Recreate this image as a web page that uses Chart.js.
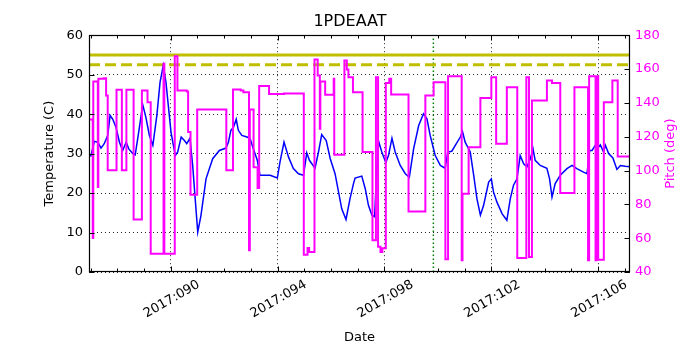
<!DOCTYPE html>
<html>
<head>
<meta charset="utf-8">
<script src="https://cdn.jsdelivr.net/npm/chart.js@4.4.0/dist/chart.umd.min.js"></script>
<style>
  body { margin: 0; background: #fff; }
  #wrap { width: 700px; height: 350px; }
</style>
</head>
<body>
<div id="wrap"><canvas id="myChart" width="700" height="350"></canvas></div>
<script>
// temperature trace (day of year 2017, deg C)
var tempDays = [86.93, 87.01, 87.14, 87.27, 87.39, 87.51, 87.64, 87.73, 87.83, 87.95,
  88.08, 88.20, 88.33, 88.43, 88.58, 88.67, 88.82, 88.95, 89.07, 89.20,
  89.33, 89.48, 89.60, 89.72, 89.82, 90.01, 90.17, 90.26, 90.39, 90.51,
  90.60, 90.72, 90.82, 91.01, 91.13, 91.32, 91.57, 91.82, 92.07, 92.16,
  92.25, 92.35, 92.45, 92.53, 92.66, 92.85, 92.97, 93.09, 93.24, 93.34,
  93.72, 93.99, 94.09, 94.24, 94.41, 94.59, 94.78, 94.97, 95.09, 95.19,
  95.40, 95.53, 95.65, 95.82, 95.97, 96.15, 96.28, 96.40, 96.56, 96.71,
  96.84, 96.90, 97.15, 97.28, 97.40, 97.53, 97.63, 97.71, 97.78, 97.90,
  98.05, 98.15, 98.28, 98.40, 98.59, 98.78, 98.93, 99.09, 99.28, 99.46,
  99.59, 99.71, 99.90, 100.09, 100.27, 100.37, 100.52, 100.65, 100.84, 100.92,
  101.02, 101.21, 101.34, 101.46, 101.59, 101.71, 101.90, 102.00, 102.08, 102.21,
  102.40, 102.58, 102.71, 102.83, 102.96, 103.08, 103.21, 103.33, 103.46, 103.56,
  103.64, 103.83, 104.08, 104.18, 104.27, 104.39, 104.58, 104.83, 105.02, 105.20,
  105.45, 105.58, 105.68, 105.77, 105.89, 105.95, 106.08, 106.20, 106.27, 106.39,
  106.55, 106.70, 106.83, 107.01, 107.26];
var tempVals = [29.7, 29.4, 33.1, 32.9, 31.4, 32.5, 34.6, 39.7, 38.7, 36.7,
  32.9, 30.8, 32.9, 31.2, 30.0, 29.7, 36.3, 42.4, 39.2, 34.6,
  32.1, 39.7, 48.1, 52.3, 48.1, 35.4, 29.5, 30.4, 34.2, 33.3,
  32.5, 33.9, 27.0, 10.1, 14.3, 23.6, 28.7, 30.8, 31.4, 32.9,
  35.9, 36.7, 38.7, 35.9, 34.6, 34.2, 33.8, 31.2, 28.3, 24.5,
  24.5, 23.8, 27.9, 32.9, 29.1, 26.2, 24.9, 24.5, 30.2, 28.3,
  26.3, 30.4, 34.8, 33.3, 28.7, 24.9, 20.3, 16.0, 13.3, 18.6,
  22.4, 23.8, 24.3, 21.1, 16.9, 14.4, 14.0, 25.3, 33.1, 30.4,
  27.7, 29.5, 33.9, 30.4, 27.0, 24.9, 24.0, 31.2, 37.1, 40.1,
  38.8, 34.6, 29.5, 27.0, 26.3, 30.4, 30.6, 32.1, 34.2, 35.6,
  32.9, 30.4, 24.5, 18.6, 14.4, 16.9, 22.8, 23.6, 20.3, 17.7,
  14.8, 13.1, 18.6, 22.0, 23.6, 29.5, 27.4, 26.6, 28.7, 31.2,
  28.3, 27.0, 26.3, 23.6, 19.0, 22.4, 24.5, 26.2, 27.0, 26.2,
  25.3, 24.9, 30.8, 30.8, 32.1, 31.2, 32.2, 30.4, 32.1, 30.0,
  28.9, 26.0, 27.0, 26.8, 26.6];

// pitch steps (day the value starts, deg)
var pitchDays = [86.90, 87.08, 87.10, 87.27, 87.29, 87.50, 87.58, 87.64, 87.97, 88.17,
  88.34, 88.61, 88.92, 89.13, 89.25, 89.73, 89.76, 90.15, 90.25, 90.60,
  90.65, 90.74, 90.99, 92.08, 92.33, 92.62, 92.72, 92.93, 92.96, 93.10,
  93.25, 93.31, 93.68, 94.24, 94.98, 95.12, 95.18, 95.38, 95.50, 95.58,
  95.60, 95.78, 96.10, 96.12, 96.50, 96.59, 96.65, 96.82, 97.18, 97.55,
  97.68, 97.76, 97.85, 97.92, 98.05, 98.18, 98.25, 98.90, 99.53, 99.84,
  100.28, 100.38, 100.89, 100.92, 101.15, 101.59, 102.00, 102.18, 102.58, 102.97,
  103.31, 103.41, 103.52, 104.08, 104.27, 104.58, 105.11, 105.62, 105.66, 105.90,
  105.94, 106.00, 106.21, 106.53, 106.73, 107.19];
var pitchVals = [130.2, 60.1, 152.6, 90.2, 154.2, 154.6, 144.4, 100.1, 147.7, 100.1,
  147.7, 71.1, 147.3, 140.4, 50.8, 163.1, 50.8, 167.6, 147.3, 146.7,
  122.7, 85.7, 136.0, 100.1, 147.9, 147.3, 146.3, 52.8, 136.1, 102.0,
  89.6, 149.9, 145.3, 145.5, 50.2, 54.2, 51.8, 165.6, 156.2, 124.7,
  152.6, 144.8, 154.2, 109.3, 165.0, 159.7, 155.2, 146.3, 110.9, 58.7,
  155.2, 55.0, 51.8, 54.0, 151.8, 154.2, 145.0, 75.8, 144.4, 152.2,
  47.5, 155.8, 46.9, 86.3, 113.8, 142.8, 155.2, 115.8, 149.3, 48.3,
  155.2, 48.9, 141.4, 153.2, 151.8, 86.7, 149.3, 46.9, 155.8, 46.9,
  155.8, 47.3, 140.4, 153.2, 108.3, 108.3];

var limitVals = [55, 52.5];          // solid, dashed
var markerDay = 99.83;
var dayRange = [86.94, 107.19];
var majorDays = [90, 94, 98, 102, 106];
var tempRange = [0, 60];
var pitchRange = [40, 180];

Chart.defaults.font.family = 'DejaVu Sans';
Chart.defaults.font.size = 13;
Chart.defaults.color = '#000';

function pts(xs, ys) {
  return xs.map(function (x, i) { return { x: x, y: ys[i] }; });
}

var frameTicks = {
  id: 'frameTicks',
  afterDraw: function (chart) {
    var ctx = chart.ctx, a = chart.chartArea, sx = chart.scales.x;
    var sy = chart.scales.y, sy2 = chart.scales.y2;
    var L = Math.round(a.left) + 0.5, R = Math.round(a.right) - 0.5;
    var T = Math.round(a.top) + 0.5, B = Math.round(a.bottom) - 0.5;
    ctx.save();
    ctx.strokeStyle = '#000';
    ctx.lineWidth = 1;
    ctx.beginPath();
    for (var d = Math.ceil(dayRange[0]); d <= dayRange[1]; d++) {
      var px = Math.round(sx.getPixelForValue(d)) + 0.5;
      var len = majorDays.indexOf(d) >= 0 ? 5 : 3;
      ctx.moveTo(px, B); ctx.lineTo(px, B - len);
      ctx.moveTo(px, T); ctx.lineTo(px, T + len);
    }
    for (var t = tempRange[0]; t <= tempRange[1]; t += 10) {
      var py = Math.round(sy.getPixelForValue(t)) + 0.5;
      ctx.moveTo(L, py); ctx.lineTo(L + 5, py);
    }
    for (var p = pitchRange[0]; p <= pitchRange[1]; p += 20) {
      var py2 = Math.round(sy2.getPixelForValue(p)) + 0.5;
      ctx.moveTo(R, py2); ctx.lineTo(R - 5, py2);
    }
    ctx.stroke();
    ctx.lineWidth = 1.2;
    ctx.strokeRect(L, T, R - L, B - T);
    // right axis title, reads bottom to top like matplotlib's twin label
    ctx.translate(671, (a.top + a.bottom) / 2);
    ctx.rotate(-Math.PI / 2);
    ctx.fillStyle = '#ff00ff';
    ctx.font = '13px "DejaVu Sans"';
    ctx.textAlign = 'center';
    ctx.textBaseline = 'middle';
    ctx.fillText('Pitch (deg)', 0, 0);
    ctx.restore();
  }
};

var ctx = document.getElementById('myChart');
var myChart = new Chart(ctx, {
  type: 'line',
  data: {
    datasets: [{
      label: 'Pitch',
      data: pts(pitchDays, pitchVals),
      yAxisID: 'y2',
      stepped: true,
      borderColor: '#ff00ff',
      borderWidth: 2,
      pointRadius: 0,
      order: 0
    }, {
      label: '1PDEAAT',
      data: pts(tempDays, tempVals),
      yAxisID: 'y',
      borderColor: '#0000ff',
      borderWidth: 1.5,
      pointRadius: 0,
      order: 1
    }, {
      label: 'limit',
      data: pts(dayRange, [limitVals[0], limitVals[0]]),
      yAxisID: 'y',
      borderColor: '#bfbf00',
      borderWidth: 3,
      pointRadius: 0,
      order: 2
    }, {
      label: 'limit2',
      data: pts(dayRange, [limitVals[1], limitVals[1]]),
      yAxisID: 'y',
      borderColor: '#bfbf00',
      borderWidth: 3,
      borderDash: [11, 5],
      pointRadius: 0,
      order: 2
    }, {
      label: 'marker',
      data: pts([markerDay, markerDay], tempRange),
      yAxisID: 'y',
      borderColor: '#008000',
      borderWidth: 1.5,
      borderDash: [1.5, 2.5],
      pointRadius: 0,
      order: 3
    }]
  },
  options: {
    responsive: false,
    animation: false,
    layout: { padding: 0 },
    plugins: {
      legend: { display: false },
      tooltip: { enabled: false },
      title: {
        display: true,
        text: '1PDEAAT',
        color: '#000',
        font: { size: 16, weight: 'normal' },
        padding: { top: 12, bottom: 4 }
      }
    },
    scales: {
      x: {
        type: 'linear',
        position: 'bottom',
        min: dayRange[0],
        max: dayRange[1],
        afterBuildTicks: function (s) {
          s.ticks = majorDays.map(function (v) { return { value: v }; });
        },
        afterFit: function (s) { s.height = 78; },
        ticks: {
          autoSkip: false,
          minRotation: 30,
          maxRotation: 30,
          labelOffset: 28,
          padding: 5,
          callback: function (v) { return '2017:' + String(v).padStart(3, '0'); }
        },
        grid: { color: 'rgba(0,0,0,0.85)', lineWidth: 1, drawTicks: false },
        border: { display: false, dash: [1, 3] },
        title: { display: true, text: 'Date', padding: { top: 0, bottom: 5 } }
      },
      y: {
        position: 'left',
        min: tempRange[0],
        max: tempRange[1],
        afterFit: function (s) { s.width = 89; },
        ticks: { stepSize: 10, padding: 6 },
        grid: { color: 'rgba(0,0,0,0.85)', lineWidth: 1, drawTicks: false },
        border: { display: false, dash: [1, 3] },
        title: { display: true, text: 'Temperature (C)', padding: { top: 42, bottom: 0 } }
      },
      y2: {
        position: 'right',
        min: pitchRange[0],
        max: pitchRange[1],
        afterFit: function (s) { s.width = 70; },
        ticks: { stepSize: 20, padding: 5, color: '#ff00ff' },
        grid: { display: false, drawTicks: false },
        border: { display: false }
      }
    }
  },
  plugins: [frameTicks]
});
</script>
</body>
</html>
